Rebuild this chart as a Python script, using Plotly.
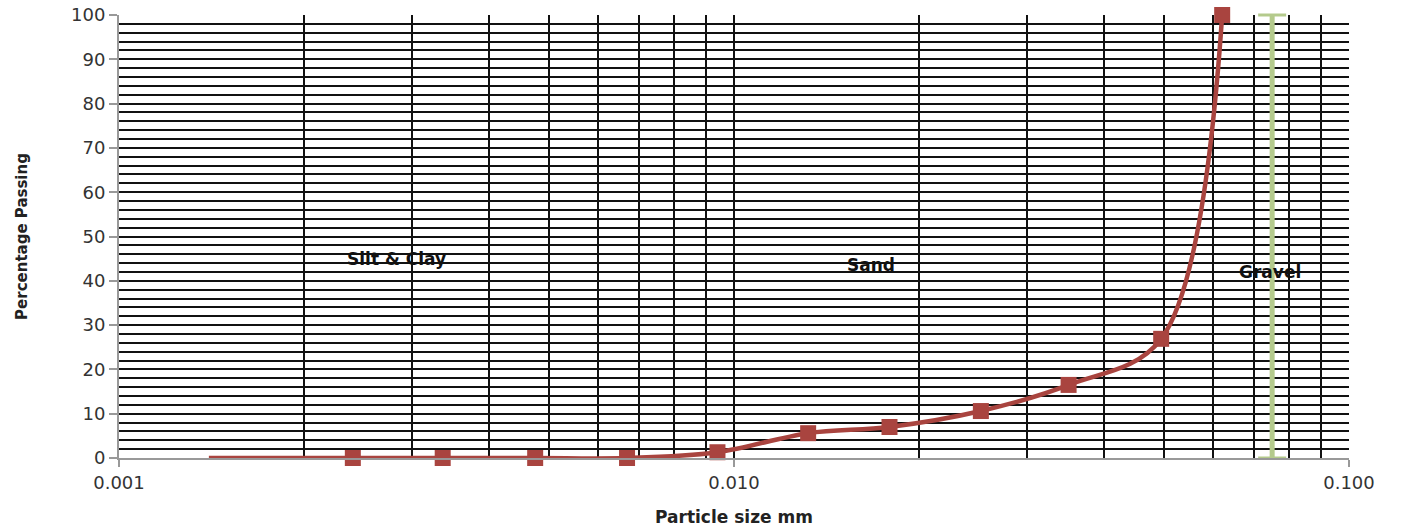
import math
import plotly.graph_objects as go

# Data
particle_size = [0.0014, 0.0024, 0.00336, 0.00475, 0.0067, 0.0094, 0.0132, 0.0179, 0.0252, 0.0350, 0.0495, 0.0622]
percent_passing = [0, 0, 0, 0, 0, 1.3, 5.6, 7.0, 10.6, 16.5, 26.9, 100]
marker_sizes = [0, 16, 16, 16, 16, 16, 16, 16, 16, 16, 16, 16]

gravel_boundary_x = [0.075, 0.075]
gravel_boundary_y = [0, 100]

x_tick_vals = [0.001, 0.01, 0.1]
x_tick_text = ["0.001", "0.010", "0.100"]
x_minor_vals = [m * d for d in (0.001, 0.01) for m in range(2, 10)]

zone_labels = ["Silt & Clay", "Sand", "Gravel"]
zone_x = [0.00283, 0.0167, 0.0744]
zone_y = [44.9, 43.6, 42.0]

RED = "#a9443f"
GREEN = "#b4ca8c"
FONT = "DejaVu Sans"

fig = go.Figure()

fig.add_trace(go.Scatter(
    x=particle_size, y=percent_passing,
    mode="lines+markers",
    line=dict(color=RED, width=4.5, shape="spline", smoothing=1),
    marker=dict(symbol="square", size=marker_sizes, color=RED, opacity=1, line=dict(width=0)),
    cliponaxis=False, showlegend=False,
))

fig.add_trace(go.Scatter(
    x=gravel_boundary_x, y=gravel_boundary_y,
    mode="lines+markers",
    line=dict(color=GREEN, width=5),
    marker=dict(symbol="line-ew", size=20, opacity=1, line=dict(color=GREEN, width=3)),
    cliponaxis=False, showlegend=False,
))

for lbl, zx, zy in zip(zone_labels, zone_x, zone_y):
    fig.add_annotation(x=math.log10(zx), y=zy, xref="x", yref="y", text=f"<b>{lbl}</b>",
                       showarrow=False, font=dict(family=FONT, size=17, color="#111"),
                       bgcolor="rgba(0,0,0,0)",
                       xanchor="center", yanchor="middle")

fig.update_xaxes(
    type="log", range=[-3, -1],
    tickmode="array", tickvals=x_tick_vals, ticktext=x_tick_text,
    ticks="outside", ticklen=7, tickcolor="#999", tickwidth=1.5,
    showgrid=True, gridcolor="#111", gridwidth=1.5,
    minor=dict(tickmode="array", tickvals=x_minor_vals, showgrid=True,
               gridcolor="#111", gridwidth=1.5, ticks=""),
    showline=True, linecolor="#999", linewidth=2,
    zeroline=False, automargin=False,
    tickfont=dict(family=FONT, size=18, color="#333"),
    title=dict(text="<b>Particle size mm</b>", font=dict(family=FONT, size=17, color="#222"), standoff=20),
)

fig.update_yaxes(
    range=[0, 100], tickmode="linear", tick0=0, dtick=10,
    ticks="outside", ticklen=8, tickcolor="#999", tickwidth=1.5,
    showgrid=True, gridcolor="#111", gridwidth=1.5,
    minor=dict(dtick=2, showgrid=True, gridcolor="#111", gridwidth=1.5, ticks=""),
    showline=True, linecolor="#999", linewidth=2,
    zeroline=False, automargin=False,
    tickfont=dict(family=FONT, size=18, color="#333"),
    title=dict(text="<b>Percentage Passing</b>", font=dict(family=FONT, size=15, color="#222"), standoff=40),
)

fig.update_layout(
    width=1401, height=529,
    margin=dict(l=119, r=52, t=15, b=71),
    plot_bgcolor="white", paper_bgcolor="white",
)

fig.write_html("out.html")
